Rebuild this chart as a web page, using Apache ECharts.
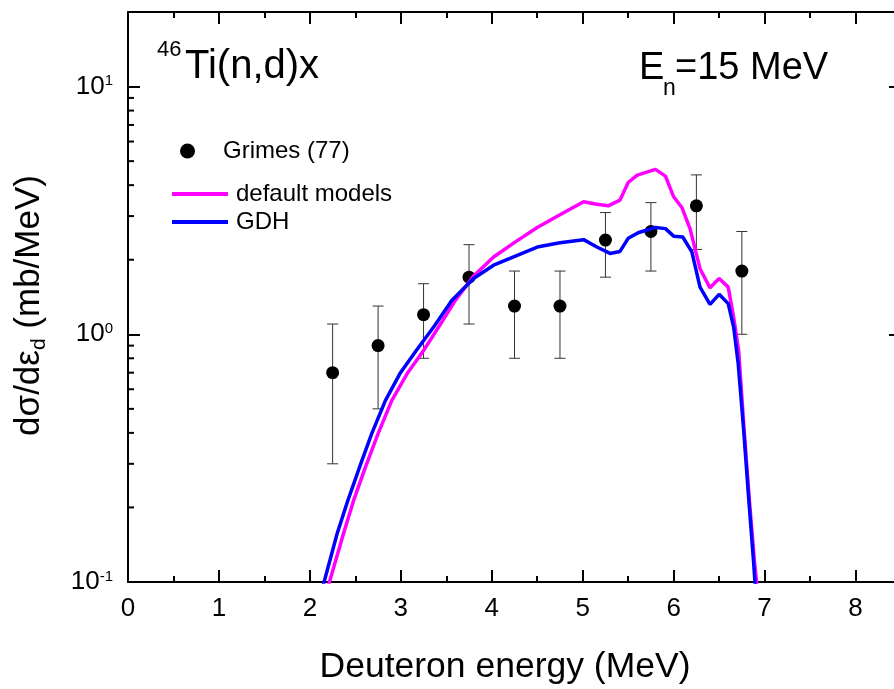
<!DOCTYPE html>
<html>
<head>
<meta charset="utf-8">
<script src="https://cdn.jsdelivr.net/npm/echarts@6/dist/echarts.min.js"></script>
<style>
  html, body { margin: 0; padding: 0; background: #fff; }
  #chart { width: 894px; height: 689px; }
</style>
</head>
<body>
<div id="chart"></div>
<script>
// Grimes (77) measured deuteron spectrum with uncertainties
const energyGrimes = [2.25, 2.75, 3.25, 3.75, 4.25, 4.75, 5.25, 5.75, 6.25, 6.75];
const sigmaGrimes  = [0.7, 0.9, 1.2, 1.7, 1.3, 1.3, 2.4, 2.6, 3.3, 1.8];
const errGrimes    = [0.4, 0.4, 0.4, 0.6, 0.5, 0.5, 0.7, 0.8, 1.1, 0.8];

// Calculation with default models
const energyDefault = [2.18, 2.215, 2.37, 2.48, 2.61, 2.75, 2.90, 3.07, 3.25, 3.43, 3.60, 3.80, 4.02, 4.26, 4.50, 4.75, 5.01, 5.156, 5.28, 5.41, 5.50, 5.60, 5.80, 5.91, 6.00, 6.09, 6.18, 6.29, 6.40, 6.50, 6.60, 6.66, 6.715, 6.775, 6.83, 6.89, 6.912, 6.93];
const sigmaDefault  = [0.09, 0.1, 0.157, 0.213, 0.29, 0.397, 0.54, 0.694, 0.86, 1.09, 1.37, 1.72, 2.05, 2.36, 2.70, 3.04, 3.43, 3.35, 3.30, 3.48, 4.10, 4.39, 4.63, 4.35, 3.59, 3.25, 2.67, 1.84, 1.54, 1.68, 1.55, 1.17, 0.86, 0.41, 0.22, 0.119, 0.1, 0.09];

// Calculation with the GDH model
const energyGDH = [2.12, 2.156, 2.30, 2.417, 2.545, 2.68, 2.83, 2.99, 3.17, 3.377, 3.56, 3.80, 4.02, 4.26, 4.50, 4.75, 5.01, 5.156, 5.30, 5.41, 5.50, 5.61, 5.80, 5.91, 6.00, 6.10, 6.20, 6.29, 6.40, 6.50, 6.60, 6.66, 6.71, 6.77, 6.824, 6.88, 6.894, 6.905];
const sigmaGDH  = [0.09, 0.1, 0.157, 0.213, 0.29, 0.397, 0.54, 0.694, 0.86, 1.09, 1.37, 1.68, 1.90, 2.07, 2.25, 2.34, 2.41, 2.25, 2.12, 2.16, 2.44, 2.57, 2.70, 2.67, 2.49, 2.47, 2.15, 1.55, 1.32, 1.45, 1.33, 1.07, 0.76, 0.41, 0.22, 0.119, 0.1, 0.09];

// Minor ticks of the logarithmic axis
const yMinorTicks = [0.2, 0.3, 0.4, 0.5, 0.6, 0.7, 0.8, 0.9, 2, 3, 4, 5, 6, 7, 8, 9];

const FONT = "'Liberation Sans', Arial, Helvetica, sans-serif";
const BLACK = '#000';
const LEGEND_LINE = 'path://M0,0 L56,0 L56,4 L0,4 Z';

const chart = echarts.init(document.getElementById('chart'), null, { renderer: 'canvas' });

function xAxisDef(position, interval, tickLen, withLabels, withLine) {
  return {
    type: 'value', min: 0, max: 8.5, interval: interval, position: position,
    axisLine: { show: withLine, onZero: false, lineStyle: { color: BLACK, width: 2 } },
    axisTick: { show: true, inside: true, length: tickLen, lineStyle: { color: BLACK, width: 2 } },
    axisLabel: {
      show: withLabels, fontSize: 26, margin: 14, color: BLACK, fontFamily: FONT,
      formatter: v => (Number.isInteger(v) ? String(v) : '')
    },
    splitLine: { show: false }
  };
}

function yAxisDef(position, withLabels) {
  return {
    type: 'log', logBase: 10, min: 0.1, max: 20, position: position,
    axisLine: { show: true, onZero: false, lineStyle: { color: BLACK, width: 2 } },
    axisTick: { show: true, inside: true, length: 12, lineStyle: { color: BLACK, width: 2 } },
    axisLabel: {
      show: withLabels, margin: 15, color: BLACK, fontFamily: FONT,
      formatter: v => {
        const e = Math.log10(v), r = Math.round(e);
        if (Math.abs(e - r) > 1e-6) return '';
        return '{b|10}{s|' + r + '}';
      },
      rich: {
        b: { fontSize: 26, lineHeight: 26, fontFamily: FONT, color: BLACK },
        s: { fontSize: 15, lineHeight: 8, verticalAlign: 'top', fontFamily: FONT, color: BLACK }
      }
    },
    splitLine: { show: false },
    minorTick: { show: false }
  };
}

const option = {
  animation: false,
  backgroundColor: '#fff',
  grid: { left: 128, width: 773, top: 12, bottom: 107, containLabel: false, outerBoundsMode: 'none' },
  xAxis: [
    xAxisDef('bottom', 1, 12, true, true),
    xAxisDef('bottom', 0.5, 6, false, false),
    xAxisDef('top', 1, 12, false, true),
    xAxisDef('top', 0.5, 6, false, false)
  ],
  yAxis: [
    yAxisDef('left', true),
    yAxisDef('right', false)
  ],
  legend: [
    {
      data: ['Grimes (77)'], orient: 'vertical', left: 180, top: 139,
      itemWidth: 15, itemHeight: 15, padding: 0, selectedMode: false,
      textStyle: { fontSize: 24, color: BLACK, fontFamily: FONT, padding: [0, 0, 0, 23] }
    },
    {
      data: [
        { name: 'default models', icon: LEGEND_LINE },
        { name: 'GDH', icon: LEGEND_LINE }
      ],
      orient: 'vertical', left: 172, top: 182,
      itemWidth: 56, itemHeight: 4, itemGap: 4, padding: 0, selectedMode: false,
      textStyle: { fontSize: 24, color: BLACK, fontFamily: FONT, padding: [0, 0, 0, 3] }
    }
  ],
  graphic: [
    { type: 'text', x: 157, y: 49.5, style: { text: '46', fontSize: 22, fontFamily: FONT, fill: BLACK, align: 'left', verticalAlign: 'middle' } },
    { type: 'text', x: 185, y: 66.5, style: { text: 'Ti(n,d)x', fontSize: 40, fontFamily: FONT, fill: BLACK, align: 'left', verticalAlign: 'middle' } },
    { type: 'text', x: 639, y: 68.3, style: { text: 'E', fontSize: 38, fontFamily: FONT, fill: BLACK, align: 'left', verticalAlign: 'middle' } },
    { type: 'text', x: 663, y: 89, style: { text: 'n', fontSize: 23, fontFamily: FONT, fill: BLACK, align: 'left', verticalAlign: 'middle' } },
    { type: 'text', x: 675, y: 68.3, style: { text: '=15 MeV', fontSize: 38, fontFamily: FONT, fill: BLACK, align: 'left', verticalAlign: 'middle' } },
    { type: 'text', x: 505, y: 667.5, style: { text: 'Deuteron energy (MeV)', fontSize: 35.5, fontFamily: FONT, fill: BLACK, align: 'center', verticalAlign: 'middle' } },
    {
      type: 'text', x: 29.5, y: 305.5, rotation: Math.PI / 2,
      style: {
        text: '{m|dσ/dε}{s|d}{m| (mb/MeV)}', align: 'center', verticalAlign: 'middle',
        rich: {
          m: { fontSize: 35, lineHeight: 40, fontFamily: FONT, fill: BLACK },
          s: { fontSize: 21, lineHeight: 8, verticalAlign: 'bottom', fontFamily: FONT, fill: BLACK }
        }
      }
    }
  ],
  series: [
    {
      name: 'minor ticks', type: 'custom', xAxisIndex: 0, yAxisIndex: 0, silent: true, z: 6,
      data: yMinorTicks.map(v => [0, v]),
      encode: { x: 0, y: 1 },
      renderItem: (params, api) => {
        const p = api.coord([0, api.value(1)]);
        return { type: 'line', shape: { x1: p[0], y1: p[1], x2: p[0] + 6, y2: p[1] }, style: { stroke: BLACK, lineWidth: 2 } };
      }
    },
    {
      name: 'Grimes error', type: 'custom', xAxisIndex: 0, yAxisIndex: 0, silent: true, z: 2,
      data: energyGrimes.map((x, i) => [x, sigmaGrimes[i] - errGrimes[i], sigmaGrimes[i] + errGrimes[i]]),
      encode: { x: 0, y: [1, 2] },
      renderItem: (params, api) => {
        const x = api.value(0);
        const lo = api.coord([x, api.value(1)]);
        const hi = api.coord([x, api.value(2)]);
        const w = 5.5;
        const st = { stroke: '#333', lineWidth: 1 };
        return {
          type: 'group',
          children: [
            { type: 'line', shape: { x1: lo[0], y1: lo[1], x2: hi[0], y2: hi[1] }, style: st },
            { type: 'line', shape: { x1: hi[0] - w, y1: hi[1], x2: hi[0] + w, y2: hi[1] }, style: st },
            { type: 'line', shape: { x1: lo[0] - w, y1: lo[1], x2: lo[0] + w, y2: lo[1] }, style: st }
          ]
        };
      }
    },
    {
      name: 'Grimes (77)', type: 'scatter', xAxisIndex: 0, yAxisIndex: 0, z: 3,
      symbol: 'circle', symbolSize: 13,
      itemStyle: { color: BLACK, opacity: 1 },
      data: energyGrimes.map((x, i) => [x, sigmaGrimes[i]])
    },
    {
      name: 'default models', type: 'line', xAxisIndex: 0, yAxisIndex: 0, z: 4,
      symbol: 'none', showSymbol: false, clip: true, smooth: false,
      lineStyle: { color: '#ff00ff', width: 3.5 }, itemStyle: { color: '#ff00ff' },
      data: energyDefault.map((x, i) => [x, sigmaDefault[i]])
    },
    {
      name: 'GDH', type: 'line', xAxisIndex: 0, yAxisIndex: 0, z: 4,
      symbol: 'none', showSymbol: false, clip: true, smooth: false,
      lineStyle: { color: '#0000ff', width: 3.5 }, itemStyle: { color: '#0000ff' },
      data: energyGDH.map((x, i) => [x, sigmaGDH[i]])
    }
  ]
};

chart.setOption(option);
</script>
</body>
</html>
